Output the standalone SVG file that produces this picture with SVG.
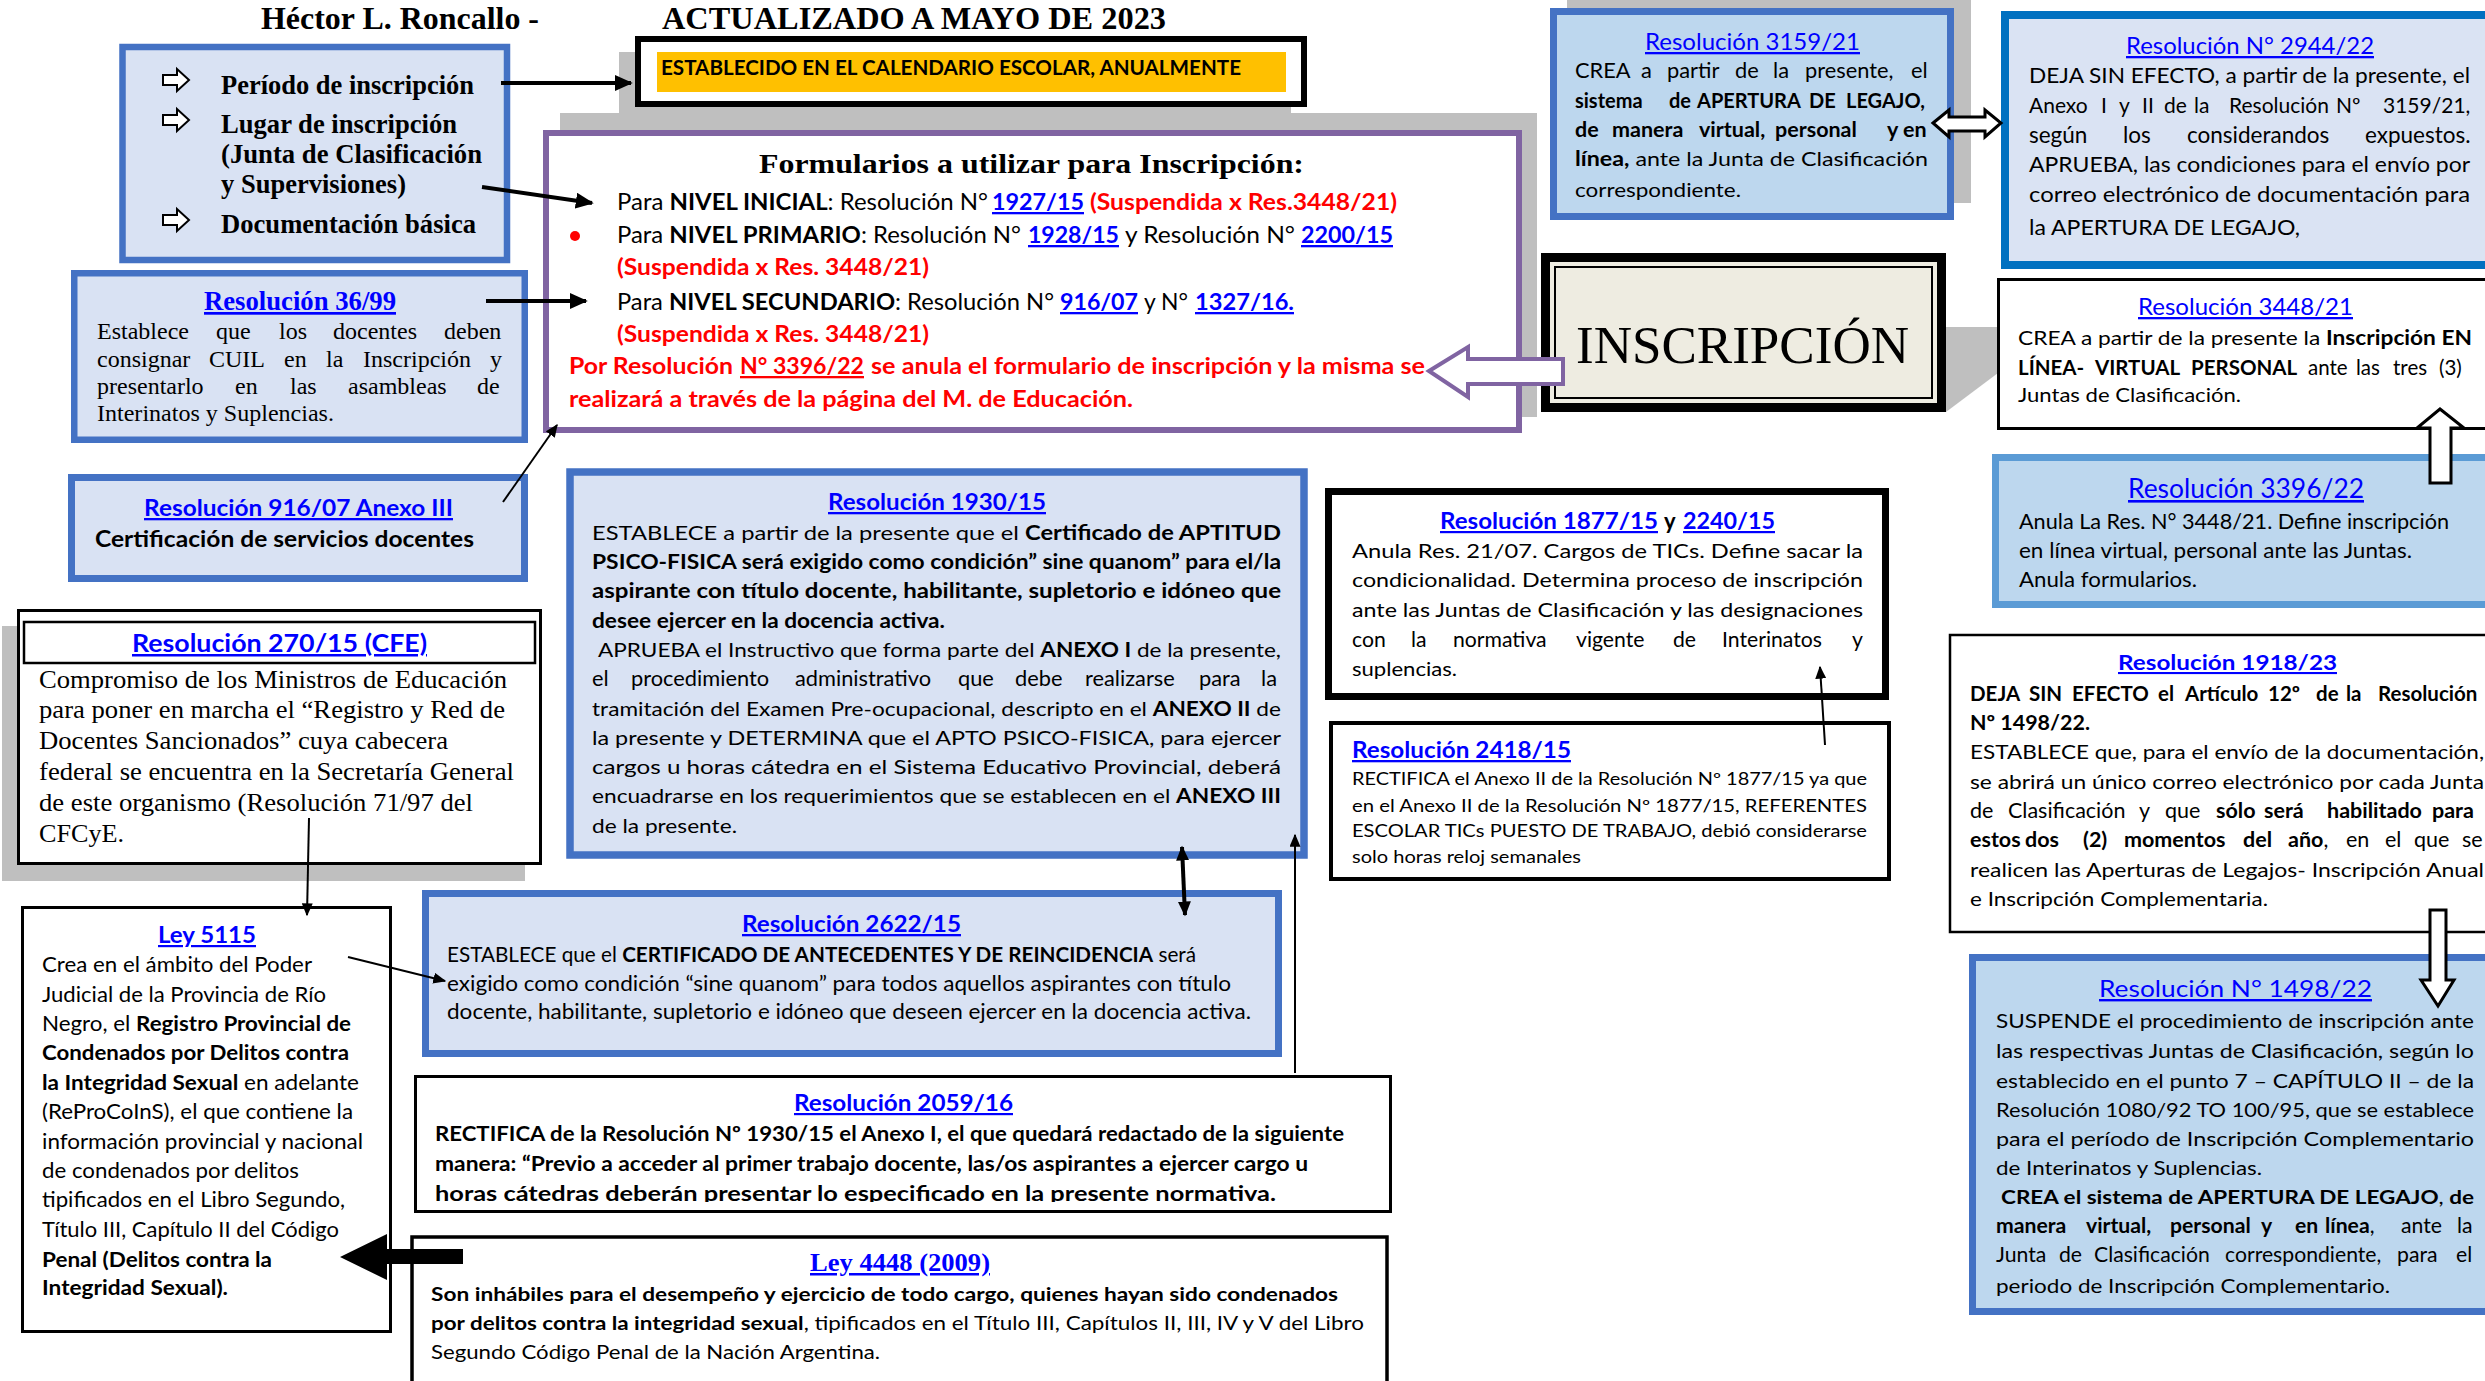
<svg xmlns="http://www.w3.org/2000/svg" width="2485" height="1381" viewBox="0 0 2485 1381">
<style>
.s{font-family:"Liberation Serif","Times New Roman",serif;fill:#000}
.c{font-family:Lato,"Liberation Sans",sans-serif;fill:#000}
.b{font-weight:bold}
.u{fill:#0000FF;text-decoration:underline}
.r{fill:#FF0000}
.bxb{fill:#D9E2F3;stroke:#4472C4}
.bxs{fill:#BDD7EE;stroke:#4472C4}
.bxw{fill:#FFFFFF;stroke:#000}
.sh{fill:#BFBFBF}
.ln{stroke:#000;fill:none}
.ha{fill:#FFFFFF;stroke:#000;stroke-width:3}
</style>
<defs>
<marker id="ah" viewBox="0 0 10 10" refX="9" refY="5" markerWidth="18" markerHeight="16" markerUnits="userSpaceOnUse" orient="auto-start-reverse" preserveAspectRatio="none"><path d="M0,0 L10,5 L0,10 z" fill="#000"/></marker>
<marker id="ahm" viewBox="0 0 10 10" refX="9" refY="5" markerWidth="15" markerHeight="13" markerUnits="userSpaceOnUse" orient="auto-start-reverse" preserveAspectRatio="none"><path d="M0,0 L10,5 L0,10 z" fill="#000"/></marker>
<marker id="aht" viewBox="0 0 10 10" refX="9" refY="5" markerWidth="13" markerHeight="11" markerUnits="userSpaceOnUse" orient="auto-start-reverse" preserveAspectRatio="none"><path d="M0,0 L10,5 L0,10 z" fill="#000"/></marker>
<clipPath id="clip2059"><rect x="414" y="1076" width="980" height="126"/></clipPath>
</defs>
<rect width="2485" height="1381" fill="#FFFFFF"/>

<g id="header">
<text class="s b" x="261" y="29" font-size="31" textLength="278" lengthAdjust="spacingAndGlyphs">Héctor L. Roncallo -</text>
<text class="s b" x="662" y="29" font-size="32" textLength="504" lengthAdjust="spacingAndGlyphs">ACTUALIZADO A MAYO DE 2023</text>
</g>

<g id="node-items">
<rect class="bxb" x="122.5" y="47" width="384.5" height="213" stroke-width="6.5"/>
<path d="M163,75 H177 V69 L189,80 L177,91 V85 H163 Z" fill="#fff" stroke="#000" stroke-width="2"/>
<path d="M163,115 H177 V109 L189,120 L177,131 V125 H163 Z" fill="#fff" stroke="#000" stroke-width="2"/>
<path d="M163,215 H177 V209 L189,220 L177,231 V225 H163 Z" fill="#fff" stroke="#000" stroke-width="2"/>
<text class="s b" x="221" y="94" font-size="27" textLength="253" lengthAdjust="spacingAndGlyphs">Período de inscripción</text>
<text class="s b" x="221" y="133" font-size="27" textLength="236" lengthAdjust="spacingAndGlyphs">Lugar de inscripción</text>
<text class="s b" x="221" y="163" font-size="27" textLength="261" lengthAdjust="spacingAndGlyphs">(Junta de Clasificación</text>
<text class="s b" x="221" y="193" font-size="27" textLength="185" lengthAdjust="spacingAndGlyphs">y Supervisiones)</text>
<text class="s b" x="221" y="233" font-size="27" textLength="255" lengthAdjust="spacingAndGlyphs">Documentación básica</text>
</g>

<g id="node-res3699">
<rect class="bxb" x="74.25" y="273.25" width="450.5" height="166.5" stroke-width="6.5"/>
<text class="s b u" x="204" y="310" font-size="27" textLength="192" lengthAdjust="spacingAndGlyphs">Resolución 36/99</text>
<text class="s" y="339" font-size="24"><tspan x="97">Establece</tspan><tspan x="216">que</tspan><tspan x="279">los</tspan><tspan x="333">docentes</tspan><tspan x="444">deben</tspan></text>
<text class="s" y="367" font-size="24"><tspan x="97">consignar</tspan><tspan x="209">CUIL</tspan><tspan x="284">en</tspan><tspan x="326">la</tspan><tspan x="363">Inscripción</tspan><tspan x="490">y</tspan></text>
<text class="s" y="394" font-size="24"><tspan x="97">presentarlo</tspan><tspan x="235">en</tspan><tspan x="290">las</tspan><tspan x="348">asambleas</tspan><tspan x="477">de</tspan></text>
<text class="s" x="97" y="421" font-size="24" textLength="237" lengthAdjust="spacingAndGlyphs">Interinatos y Suplencias.</text>
</g>

<g id="node-calendario">
<rect class="sh" x="619" y="52" width="672" height="71"/>
<rect class="bxw" x="638" y="39" width="666" height="65" stroke-width="6"/>
<rect x="657" y="52" width="629" height="40" fill="#FFC000"/>
<text class="c b" x="661" y="75" font-size="21" textLength="580" lengthAdjust="spacingAndGlyphs">ESTABLECIDO EN EL CALENDARIO ESCOLAR, ANUALMENTE</text>
</g>

<g id="node-formularios">
<rect class="sh" x="560" y="113" width="977" height="304"/>
<rect x="546" y="133" width="973" height="297" fill="#fff" stroke="#8064A2" stroke-width="6"/>
<text class="s b" x="759" y="173" font-size="28" textLength="545" lengthAdjust="spacingAndGlyphs">Formularios a utilizar para Inscripción:</text>
<text class="c" x="617" y="210" font-size="23" textLength="371" lengthAdjust="spacingAndGlyphs">Para <tspan class="b">NIVEL INICIAL</tspan>: Resolución N°</text>
<text class="c b u" x="992" y="210" font-size="23" textLength="92" lengthAdjust="spacingAndGlyphs">1927/15</text>
<text class="c b r" x="1090" y="210" font-size="23" textLength="307" lengthAdjust="spacingAndGlyphs">(Suspendida x Res.3448/21)</text>
<circle cx="575" cy="236" r="5" fill="#FF0000"/>
<text class="c" x="617" y="243" font-size="23" textLength="404" lengthAdjust="spacingAndGlyphs">Para <tspan class="b">NIVEL PRIMARIO</tspan>: Resolución N°</text>
<text class="c b u" x="1028" y="243" font-size="23" textLength="91" lengthAdjust="spacingAndGlyphs">1928/15</text>
<text class="c" x="1125" y="243" font-size="23" textLength="170" lengthAdjust="spacingAndGlyphs">y Resolución N°</text>
<text class="c b u" x="1301" y="243" font-size="23" textLength="92" lengthAdjust="spacingAndGlyphs">2200/15</text>
<text class="c b r" x="617" y="275" font-size="23" textLength="312" lengthAdjust="spacingAndGlyphs">(Suspendida x Res. 3448/21)</text>
<text class="c" x="617" y="310" font-size="23" textLength="437" lengthAdjust="spacingAndGlyphs">Para <tspan class="b">NIVEL SECUNDARIO</tspan>: Resolución N°</text>
<text class="c b u" x="1060" y="310" font-size="23" textLength="78" lengthAdjust="spacingAndGlyphs">916/07</text>
<text class="c" x="1144" y="310" font-size="23" textLength="44" lengthAdjust="spacingAndGlyphs">y N°</text>
<text class="c b u" x="1195" y="310" font-size="23" textLength="99" lengthAdjust="spacingAndGlyphs">1327/16.</text>
<text class="c b r" x="617" y="342" font-size="23" textLength="312" lengthAdjust="spacingAndGlyphs">(Suspendida x Res. 3448/21)</text>
<text class="c b r" x="569" y="374" font-size="23" textLength="164" lengthAdjust="spacingAndGlyphs">Por Resolución</text>
<text class="c b r" x="740" y="374" font-size="23" textLength="124" lengthAdjust="spacingAndGlyphs" text-decoration="underline">N° 3396/22</text>
<text class="c b r" x="871" y="374" font-size="23" textLength="554" lengthAdjust="spacingAndGlyphs">se anula el formulario de inscripción y la misma se</text>
<text class="c b r" x="569" y="407" font-size="23" textLength="564" lengthAdjust="spacingAndGlyphs">realizará a través de la página del M. de Educación.</text>
</g>

<g id="node-res3159">
<rect class="sh" x="1567" y="0" width="404" height="203"/>
<rect class="bxs" x="1553.5" y="11.5" width="397" height="205" stroke-width="7"/>
<text class="c u" x="1645" y="50" font-size="23" textLength="215" lengthAdjust="spacingAndGlyphs">Resolución 3159/21</text>
<text class="c" y="78" font-size="21.8"><tspan x="1575">CREA</tspan><tspan x="1641">a</tspan><tspan x="1667">partir</tspan><tspan x="1735">de</tspan><tspan x="1773">la</tspan><tspan x="1805">presente,</tspan><tspan x="1911">el</tspan></text>
<text class="c b" y="108" font-size="20"><tspan x="1575">sistema</tspan><tspan x="1669">de</tspan><tspan x="1697">APERTURA</tspan><tspan x="1809">DE</tspan><tspan x="1846">LEGAJO,</tspan></text>
<text class="c b" y="137" font-size="21.5"><tspan x="1575">de</tspan><tspan x="1612">manera</tspan><tspan x="1699">virtual,</tspan><tspan x="1775">personal</tspan><tspan x="1887">y</tspan><tspan x="1903">en</tspan></text>
<text class="c" x="1575" y="166" font-size="20" textLength="353" lengthAdjust="spacingAndGlyphs"><tspan class="b">línea,</tspan> ante la Junta de Clasificación</text>
<text class="c" x="1575" y="197" font-size="20" textLength="166" lengthAdjust="spacingAndGlyphs">correspondiente.</text>
</g>

<g id="node-res2944">
<rect x="2005" y="15" width="500" height="250" fill="#DAE3F3" stroke="#0070C0" stroke-width="8"/>
<text class="c u" x="2126" y="54" font-size="23" textLength="248" lengthAdjust="spacingAndGlyphs">Resolución N° 2944/22</text>
<text class="c" x="2029" y="83" font-size="21" textLength="441" lengthAdjust="spacingAndGlyphs">DEJA SIN EFECTO, a partir de la presente, el</text>
<text class="c" y="113" font-size="21"><tspan x="2029">Anexo</tspan><tspan x="2101">I</tspan><tspan x="2119">y</tspan><tspan x="2142">II</tspan><tspan x="2164">de</tspan><tspan x="2194">la</tspan><tspan x="2229">Resolución</tspan><tspan x="2336">Nº</tspan><tspan x="2383">3159/21,</tspan></text>
<text class="c" y="143" font-size="22.5"><tspan x="2029">según</tspan><tspan x="2123">los</tspan><tspan x="2187">considerandos</tspan><tspan x="2365">expuestos.</tspan></text>
<text class="c" x="2029" y="172" font-size="21" textLength="441" lengthAdjust="spacingAndGlyphs">APRUEBA, las condiciones para el envío por</text>
<text class="c" x="2029" y="202" font-size="21" textLength="441" lengthAdjust="spacingAndGlyphs">correo electrónico de documentación para</text>
<text class="c" x="2029" y="235" font-size="21" textLength="271" lengthAdjust="spacingAndGlyphs">la APERTURA DE LEGAJO,</text>
</g>

<g id="node-inscripcion">
<polygon class="sh" points="1946,327 1998,327 1998,373 1946,412"/>
<rect x="1545.5" y="257.5" width="396" height="150" fill="#EEECE1" stroke="#000" stroke-width="9"/>
<rect x="1555" y="267" width="377" height="131" fill="none" stroke="#000" stroke-width="2"/>
<text class="s" x="1576" y="363" font-size="53" textLength="333" lengthAdjust="spacingAndGlyphs">INSCRIPCIÓN</text>
</g>

<g id="node-res3448">
<rect class="bxw" x="1998.5" y="279.5" width="500" height="149" stroke-width="3"/>
<text class="c u" x="2138" y="315" font-size="23" textLength="215" lengthAdjust="spacingAndGlyphs">Resolución 3448/21</text>
<text class="c" x="2018" y="345" font-size="20" textLength="454" lengthAdjust="spacingAndGlyphs">CREA a partir de la presente la <tspan class="b">Inscripción EN</tspan></text>
<text class="c" y="375" font-size="20.5"><tspan class="b" x="2018">LÍNEA-</tspan><tspan class="b" x="2095">VIRTUAL</tspan><tspan class="b" x="2191">PERSONAL</tspan><tspan x="2308">ante</tspan><tspan x="2356">las</tspan><tspan x="2393">tres</tspan><tspan x="2439">(3)</tspan></text>
<text class="c" x="2018" y="402" font-size="20" textLength="223" lengthAdjust="spacingAndGlyphs">Juntas de Clasificación.</text>
</g>

<g id="node-res3396">
<rect x="1995.5" y="457.5" width="500" height="147" fill="#BDD7EE" stroke="#5B9BD5" stroke-width="7"/>
<text class="c u" x="2128" y="498" font-size="26" textLength="236" lengthAdjust="spacingAndGlyphs">Resolución 3396/22</text>
<text class="c" x="2019" y="529" font-size="21" textLength="430" lengthAdjust="spacingAndGlyphs">Anula La Res. N° 3448/21. Define inscripción</text>
<text class="c" x="2019" y="558" font-size="21" textLength="393" lengthAdjust="spacingAndGlyphs">en línea virtual, personal ante las Juntas.</text>
<text class="c" x="2019" y="587" font-size="21" textLength="178" lengthAdjust="spacingAndGlyphs">Anula formularios.</text>
</g>

<g id="node-res1918">
<rect class="bxw" x="1950" y="635" width="545" height="297" stroke-width="2.5"/>
<text class="c b u" x="2118" y="670" font-size="21" textLength="219" lengthAdjust="spacingAndGlyphs">Resolución 1918/23</text>
<text class="c b" y="701" font-size="20.5"><tspan x="1970">DEJA</tspan><tspan x="2029">SIN</tspan><tspan x="2072">EFECTO</tspan><tspan x="2158">el</tspan><tspan x="2185">Artículo</tspan><tspan x="2268">12º</tspan><tspan x="2316">de</tspan><tspan x="2346">la</tspan><tspan x="2378">Resolución</tspan></text>
<text class="c b" x="1970" y="730" font-size="20" textLength="120" lengthAdjust="spacingAndGlyphs">Nº 1498/22.</text>
<text class="c" x="1970" y="759" font-size="20" textLength="514" lengthAdjust="spacingAndGlyphs">ESTABLECE que, para el envío de la documentación,</text>
<text class="c" x="1970" y="789" font-size="20" textLength="514" lengthAdjust="spacingAndGlyphs">se abrirá un único correo electrónico por cada Junta</text>
<text class="c" y="818" font-size="21.5"><tspan x="1970">de</tspan><tspan x="2008">Clasificación</tspan><tspan x="2139">y</tspan><tspan x="2165">que</tspan><tspan class="b" x="2216">sólo</tspan><tspan class="b" x="2264">será</tspan><tspan class="b" x="2327">habilitado</tspan><tspan class="b" x="2432">para</tspan></text>
<text class="c" y="847" font-size="21.5"><tspan class="b" x="1970">estos</tspan><tspan class="b" x="2025">dos</tspan><tspan class="b" x="2083">(2)</tspan><tspan class="b" x="2124">momentos</tspan><tspan class="b" x="2243">del</tspan><tspan class="b" x="2288">año</tspan>,<tspan x="2346">en</tspan><tspan x="2385">el</tspan><tspan x="2414">que</tspan><tspan x="2462">se</tspan></text>
<text class="c" x="1970" y="877" font-size="20" textLength="514" lengthAdjust="spacingAndGlyphs">realicen las Aperturas de Legajos- Inscripción Anual</text>
<text class="c" x="1970" y="906" font-size="20" textLength="298" lengthAdjust="spacingAndGlyphs">e Inscripción Complementaria.</text>
</g>

<g id="node-res1498">
<rect class="bxs" x="1972.5" y="957.5" width="520" height="354" stroke-width="7"/>
<text class="c u" x="2099" y="997" font-size="24" textLength="273" lengthAdjust="spacingAndGlyphs">Resolución N° 1498/22</text>
<text class="c" x="1996" y="1028" font-size="19.5" textLength="478" lengthAdjust="spacingAndGlyphs">SUSPENDE el procedimiento de inscripción ante</text>
<text class="c" x="1996" y="1058" font-size="19.5" textLength="478" lengthAdjust="spacingAndGlyphs">las respectivas Juntas de Clasificación, según lo</text>
<text class="c" x="1996" y="1088" font-size="19.5" textLength="478" lengthAdjust="spacingAndGlyphs">establecido en el punto 7 – CAPÍTULO II – de la</text>
<text class="c" x="1996" y="1117" font-size="19.5" textLength="478" lengthAdjust="spacingAndGlyphs">Resolución 1080/92 TO 100/95, que se establece</text>
<text class="c" x="1996" y="1146" font-size="19.5" textLength="478" lengthAdjust="spacingAndGlyphs">para el período de Inscripción Complementario</text>
<text class="c" x="1996" y="1175" font-size="19.5" textLength="266" lengthAdjust="spacingAndGlyphs">de Interinatos y Suplencias.</text>
<text class="c b" x="2001" y="1204" font-size="19.5" textLength="473" lengthAdjust="spacingAndGlyphs">CREA el sistema de APERTURA DE LEGAJO<tspan font-weight="normal">,</tspan> de</text>
<text class="c" y="1233" font-size="21.2"><tspan class="b" x="1996">manera</tspan><tspan class="b" x="2086">virtual,</tspan><tspan class="b" x="2170">personal</tspan><tspan class="b" x="2261">y</tspan><tspan class="b" x="2295">en</tspan><tspan class="b" x="2325">línea</tspan>,<tspan x="2401">ante</tspan><tspan x="2457">la</tspan></text>
<text class="c" y="1262" font-size="21.2"><tspan x="1996">Junta</tspan><tspan x="2059">de</tspan><tspan x="2094">Clasificación</tspan><tspan x="2225">correspondiente,</tspan><tspan x="2397">para</tspan><tspan x="2456">el</tspan></text>
<text class="c" x="1996" y="1293" font-size="19.5" textLength="394" lengthAdjust="spacingAndGlyphs">periodo de Inscripción Complementario.</text>
</g>

<g id="node-res91607">
<rect class="bxb" x="71.5" y="477.5" width="453" height="101" stroke-width="7"/>
<text class="c b u" x="144" y="516" font-size="23" textLength="309" lengthAdjust="spacingAndGlyphs">Resolución 916/07 Anexo III</text>
<text class="c b" x="95" y="547" font-size="22" textLength="379" lengthAdjust="spacingAndGlyphs">Certificación de servicios docentes</text>
</g>

<g id="node-res27015">
<rect class="sh" x="2" y="626" width="523" height="255"/>
<rect class="bxw" x="18.5" y="610.5" width="522" height="253" stroke-width="3"/>
<rect x="24" y="622" width="511" height="41" fill="#fff" stroke="#000" stroke-width="2.5"/>
<text class="c b u" x="132" y="652" font-size="25" textLength="295" lengthAdjust="spacingAndGlyphs">Resolución 270/15 (CFE)</text>
<text class="s" x="39" y="688" font-size="26" textLength="468" lengthAdjust="spacingAndGlyphs">Compromiso de los Ministros de Educación</text>
<text class="s" x="39" y="718" font-size="26" textLength="466" lengthAdjust="spacingAndGlyphs">para poner en marcha el “Registro y Red de</text>
<text class="s" x="39" y="749" font-size="26" textLength="409" lengthAdjust="spacingAndGlyphs">Docentes Sancionados” cuya cabecera</text>
<text class="s" x="39" y="780" font-size="26" textLength="475" lengthAdjust="spacingAndGlyphs">federal se encuentra en la Secretaría General</text>
<text class="s" x="39" y="811" font-size="26" textLength="434" lengthAdjust="spacingAndGlyphs">de este organismo (Resolución 71/97 del</text>
<text class="s" x="39" y="842" font-size="26" textLength="85" lengthAdjust="spacingAndGlyphs">CFCyE.</text>
</g>

<g id="node-ley5115">
<rect class="bxw" x="22.5" y="907.5" width="368" height="424" stroke-width="3"/>
<text class="c b u" x="158" y="943" font-size="22" textLength="98" lengthAdjust="spacingAndGlyphs">Ley 5115</text>
<text class="c" x="42" y="972" font-size="21.5" textLength="270" lengthAdjust="spacingAndGlyphs">Crea en el ámbito del Poder</text>
<text class="c" x="42" y="1002" font-size="21.5" textLength="284" lengthAdjust="spacingAndGlyphs">Judicial de la Provincia de Río</text>
<text class="c" x="42" y="1031" font-size="21.5" textLength="309" lengthAdjust="spacingAndGlyphs">Negro, el <tspan class="b">Registro Provincial de</tspan></text>
<text class="c b" x="42" y="1060" font-size="21.5" textLength="307" lengthAdjust="spacingAndGlyphs">Condenados por Delitos contra</text>
<text class="c" x="42" y="1090" font-size="21.5" textLength="317" lengthAdjust="spacingAndGlyphs"><tspan class="b">la Integridad Sexual</tspan> en adelante</text>
<text class="c" x="42" y="1119" font-size="21.5" textLength="311" lengthAdjust="spacingAndGlyphs">(ReProCoInS), el que contiene la</text>
<text class="c" x="42" y="1149" font-size="21.5" textLength="321" lengthAdjust="spacingAndGlyphs">información provincial y nacional</text>
<text class="c" x="42" y="1178" font-size="21.5" textLength="257" lengthAdjust="spacingAndGlyphs">de condenados por delitos</text>
<text class="c" x="42" y="1207" font-size="21.5" textLength="303" lengthAdjust="spacingAndGlyphs">tipificados en el Libro Segundo,</text>
<text class="c" x="42" y="1237" font-size="21.5" textLength="297" lengthAdjust="spacingAndGlyphs">Título III, Capítulo II del Código</text>
<text class="c b" x="42" y="1267" font-size="21.5" textLength="230" lengthAdjust="spacingAndGlyphs">Penal (Delitos contra la</text>
<text class="c b" x="42" y="1295" font-size="21.5" textLength="186" lengthAdjust="spacingAndGlyphs">Integridad Sexual).</text>
</g>

<g id="node-res193015">
<rect class="bxb" x="570" y="472" width="734" height="383" stroke-width="7.5"/>
<text class="c b u" x="828" y="510" font-size="23" textLength="218" lengthAdjust="spacingAndGlyphs">Resolución 1930/15</text>
<text class="c" x="592" y="540" font-size="20" textLength="689" lengthAdjust="spacingAndGlyphs">ESTABLECE a partir de la presente que el <tspan class="b">Certificado de APTITUD</tspan></text>
<text class="c b" x="592" y="569" font-size="20" textLength="689" lengthAdjust="spacingAndGlyphs">PSICO-FISICA será exigido como condición” sine quanom” para el/la</text>
<text class="c b" x="592" y="598" font-size="20" textLength="689" lengthAdjust="spacingAndGlyphs">aspirante con título docente, habilitante, supletorio e idóneo que</text>
<text class="c b" x="592" y="628" font-size="20" textLength="353" lengthAdjust="spacingAndGlyphs">desee ejercer en la docencia activa.</text>
<text class="c" x="598" y="657" font-size="20" textLength="683" lengthAdjust="spacingAndGlyphs">APRUEBA el Instructivo que forma parte del <tspan class="b">ANEXO I</tspan> de la presente,</text>
<text class="c" y="686" font-size="21.8"><tspan x="592">el</tspan><tspan x="631">procedimiento</tspan><tspan x="795">administrativo</tspan><tspan x="958">que</tspan><tspan x="1015">debe</tspan><tspan x="1085">realizarse</tspan><tspan x="1199">para</tspan><tspan x="1261">la</tspan></text>
<text class="c" x="592" y="716" font-size="20" textLength="689" lengthAdjust="spacingAndGlyphs">tramitación del Examen Pre-ocupacional, descripto en el <tspan class="b">ANEXO II</tspan> de</text>
<text class="c" x="592" y="745" font-size="20" textLength="689" lengthAdjust="spacingAndGlyphs">la presente y DETERMINA que el APTO PSICO-FISICA, para ejercer</text>
<text class="c" x="592" y="774" font-size="20" textLength="689" lengthAdjust="spacingAndGlyphs">cargos u horas cátedra en el Sistema Educativo Provincial, deberá</text>
<text class="c" x="592" y="803" font-size="20" textLength="689" lengthAdjust="spacingAndGlyphs">encuadrarse en los requerimientos que se establecen en el <tspan class="b">ANEXO III</tspan></text>
<text class="c" x="592" y="833" font-size="20" textLength="145" lengthAdjust="spacingAndGlyphs">de la presente.</text>
</g>

<g id="node-res187715">
<rect class="bxw" x="1328.5" y="491.5" width="557" height="205" stroke-width="7"/>
<text class="c b u" x="1440" y="529" font-size="22" textLength="218" lengthAdjust="spacingAndGlyphs">Resolución 1877/15</text>
<text class="c b" x="1664" y="529" font-size="22">y</text>
<text class="c b u" x="1683" y="529" font-size="22" textLength="92" lengthAdjust="spacingAndGlyphs">2240/15</text>
<text class="c" x="1352" y="558" font-size="19.5" textLength="511" lengthAdjust="spacingAndGlyphs">Anula Res. 21/07. Cargos de TICs. Define sacar la</text>
<text class="c" x="1352" y="587" font-size="19.5" textLength="511" lengthAdjust="spacingAndGlyphs">condicionalidad.  Determina proceso de inscripción</text>
<text class="c" x="1352" y="617" font-size="19.5" textLength="511" lengthAdjust="spacingAndGlyphs">ante las Juntas de Clasificación y las designaciones</text>
<text class="c" y="647" font-size="21.2"><tspan x="1352">con</tspan><tspan x="1411">la</tspan><tspan x="1453">normativa</tspan><tspan x="1576">vigente</tspan><tspan x="1673">de</tspan><tspan x="1722">Interinatos</tspan><tspan x="1852">y</tspan></text>
<text class="c" x="1352" y="676" font-size="19.5" textLength="105" lengthAdjust="spacingAndGlyphs">suplencias.</text>
</g>

<g id="node-res241815">
<rect class="bxw" x="1331" y="723" width="558" height="156" stroke-width="4"/>
<text class="c b u" x="1352" y="758" font-size="23" textLength="219" lengthAdjust="spacingAndGlyphs">Resolución 2418/15</text>
<text class="c" x="1352" y="785" font-size="17" textLength="515" lengthAdjust="spacingAndGlyphs">RECTIFICA el Anexo II de la Resolución Nº 1877/15 ya que</text>
<text class="c" x="1352" y="812" font-size="17" textLength="515" lengthAdjust="spacingAndGlyphs">en el Anexo II de la Resolución Nº 1877/15, REFERENTES</text>
<text class="c" x="1352" y="837" font-size="17" textLength="515" lengthAdjust="spacingAndGlyphs">ESCOLAR TICs PUESTO DE TRABAJO, debió considerarse</text>
<text class="c" x="1352" y="863" font-size="17" textLength="229" lengthAdjust="spacingAndGlyphs">solo horas reloj semanales</text>
</g>

<g id="node-res262215">
<rect class="bxb" x="425.5" y="893.5" width="853" height="160" stroke-width="7"/>
<text class="c b u" x="742" y="932" font-size="23" textLength="219" lengthAdjust="spacingAndGlyphs">Resolución 2622/15</text>
<text class="c" x="447" y="962" font-size="20.5" textLength="749" lengthAdjust="spacingAndGlyphs">ESTABLECE que el <tspan class="b">CERTIFICADO DE ANTECEDENTES Y DE REINCIDENCIA</tspan> será</text>
<text class="c" x="447" y="991" font-size="20.5" textLength="784" lengthAdjust="spacingAndGlyphs">exigido como condición “sine quanom” para todos aquellos aspirantes con título</text>
<text class="c" x="447" y="1019" font-size="20.5" textLength="804" lengthAdjust="spacingAndGlyphs">docente, habilitante, supletorio e idóneo que deseen ejercer en la docencia activa.</text>
</g>

<g id="node-res205916">
<rect class="bxw" x="415.5" y="1076.5" width="975" height="135" stroke-width="3"/>
<text class="c b u" x="794" y="1111" font-size="22" textLength="219" lengthAdjust="spacingAndGlyphs">Resolución 2059/16</text>
<text class="c b" x="435" y="1141" font-size="20" textLength="909" lengthAdjust="spacingAndGlyphs">RECTIFICA de la Resolución Nº 1930/15 el Anexo I, el que quedará redactado de la siguiente</text>
<text class="c b" x="435" y="1171" font-size="20" textLength="873" lengthAdjust="spacingAndGlyphs">manera: “Previo a acceder al primer trabajo docente, las/os aspirantes a ejercer cargo u</text>
<text class="c b" x="435" y="1201" font-size="21" textLength="841" lengthAdjust="spacingAndGlyphs" clip-path="url(#clip2059)">horas cátedras deberán  presentar lo especificado en la presente normativa.</text>
</g>

<g id="node-ley4448">
<rect class="bxw" x="412" y="1237" width="975" height="160" stroke-width="3.5"/>
<text class="s b u" x="810" y="1271" font-size="25" textLength="180" lengthAdjust="spacingAndGlyphs">Ley 4448 (2009)</text>
<text class="c b" x="431" y="1301" font-size="19.5" textLength="907" lengthAdjust="spacingAndGlyphs">Son inhábiles para el desempeño y ejercicio de todo cargo, quienes hayan sido condenados</text>
<text class="c" x="431" y="1330" font-size="19.5" textLength="933" lengthAdjust="spacingAndGlyphs"><tspan class="b">por delitos contra la integridad sexual</tspan>, tipificados en el Título III, Capítulos II, III, IV y V del Libro</text>
<text class="c" x="431" y="1359" font-size="19.5" textLength="449" lengthAdjust="spacingAndGlyphs">Segundo Código Penal de la Nación Argentina.</text>
</g>

<g id="connectors">
<line class="ln" x1="501" y1="83" x2="631" y2="83" stroke-width="4" marker-end="url(#ah)"/>
<line class="ln" x1="482" y1="187" x2="592" y2="203" stroke-width="4" marker-end="url(#ah)"/>
<line class="ln" x1="486" y1="301" x2="586" y2="301" stroke-width="4" marker-end="url(#ah)"/>
<line class="ln" x1="503" y1="502" x2="557" y2="425" stroke-width="2" marker-end="url(#aht)"/>
<line class="ln" x1="309" y1="818" x2="307" y2="915" stroke-width="2" marker-end="url(#aht)"/>
<line class="ln" x1="348" y1="957" x2="445" y2="981" stroke-width="2" marker-end="url(#aht)"/>
<line class="ln" x1="1182" y1="847" x2="1185" y2="915" stroke-width="4" marker-start="url(#ahm)" marker-end="url(#ahm)"/>
<line class="ln" x1="1295" y1="1073" x2="1295" y2="835" stroke-width="2" marker-end="url(#aht)"/>
<line class="ln" x1="1825" y1="745" x2="1820" y2="667" stroke-width="2" marker-end="url(#aht)"/>
<polygon points="340,1257 387,1234 387,1249 463,1249 463,1264 387,1264 387,1280" fill="#000"/>
<polygon points="1429,371 1468,347 1468,359 1563,359 1563,384 1468,384 1468,397" fill="#fff" stroke="#8064A2" stroke-width="4"/>
<polygon class="ha" points="1933,123 1949,110 1949,117 1985,117 1985,110 2001,123 1985,137 1985,131 1949,131 1949,137" stroke-width="2"/>
<polygon class="ha" points="2440,409 2464,428 2451,428 2451,483 2430,483 2430,428 2417,428"/>
<polygon class="ha" points="2430,910 2446,910 2446,980 2454,980 2438,1006 2421,980 2430,980"/>
</g>
</svg>
